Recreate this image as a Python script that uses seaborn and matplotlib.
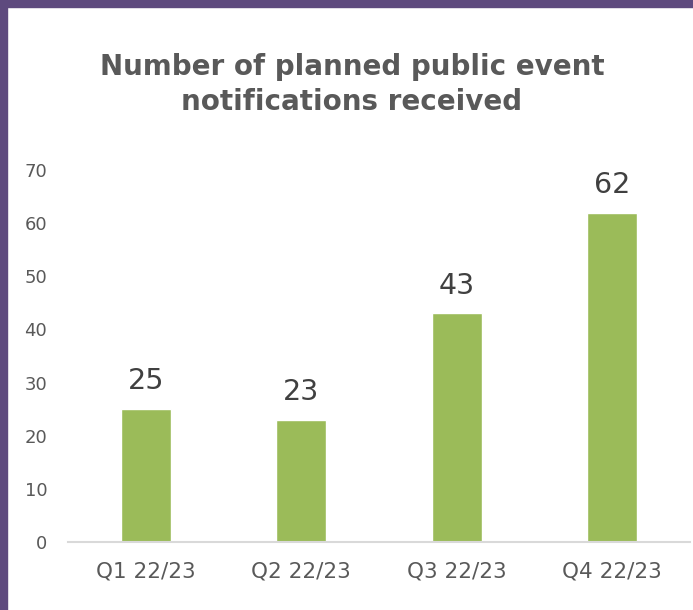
import matplotlib
matplotlib.use("Agg")
import matplotlib.pyplot as plt
import seaborn as sns
import pandas as pd
from matplotlib.patches import Rectangle

# chart data
quarters = ["Q1 22/23", "Q2 22/23", "Q3 22/23", "Q4 22/23"]
notifications = [25, 23, 43, 62]
y_ticks = [0, 10, 20, 30, 40, 50, 60, 70]

df = pd.DataFrame({"Quarter": quarters, "Notifications": notifications})

sns.set_style("white")
plt.rcParams["font.family"] = ["DejaVu Sans"]

fig = plt.figure(figsize=(6.93, 6.1), dpi=100)
ax = fig.add_axes([68 / 693, 68 / 610, 622 / 693, 372 / 610])

sns.barplot(data=df, x="Quarter", y="Notifications", color="#9BBB59",
            saturation=1, width=0.32, ax=ax)

ax.set_xlim(-0.5, 3.5)
ax.set_ylim(0, 70)
ax.set_yticks(y_ticks)
ax.set_xlabel("")
ax.set_ylabel("")
ax.tick_params(axis="y", labelsize=13, labelcolor="#595959", length=0, pad=15)
ax.tick_params(axis="x", labelsize=15.5, labelcolor="#595959", length=0, pad=14)

for s in ["top", "right", "left"]:
    ax.spines[s].set_visible(False)
ax.spines["bottom"].set_color("#D9D9D9")
ax.spines["bottom"].set_linewidth(1.5)

# value labels
for i, v in enumerate(notifications):
    ax.annotate(str(v), (i, v), xytext=(0, 10), textcoords="offset points",
                ha="center", va="bottom", fontsize=20.5, color="#404040")

fig.text(0.508, 0.861, "Number of planned public event\nnotifications received",
         ha="center", va="center", fontsize=20, fontweight="bold",
         color="#595959", linespacing=1.3)

# purple frame on the left and top
purple = "#5E4A7E"
fig.patches.append(Rectangle((0, 0), 7 / 693, 1, transform=fig.transFigure,
                             color=purple, zorder=10))
fig.patches.append(Rectangle((0, 1 - 7 / 610), 1, 7 / 610, transform=fig.transFigure,
                             color=purple, zorder=10))

fig.savefig("out.png", dpi=100)
